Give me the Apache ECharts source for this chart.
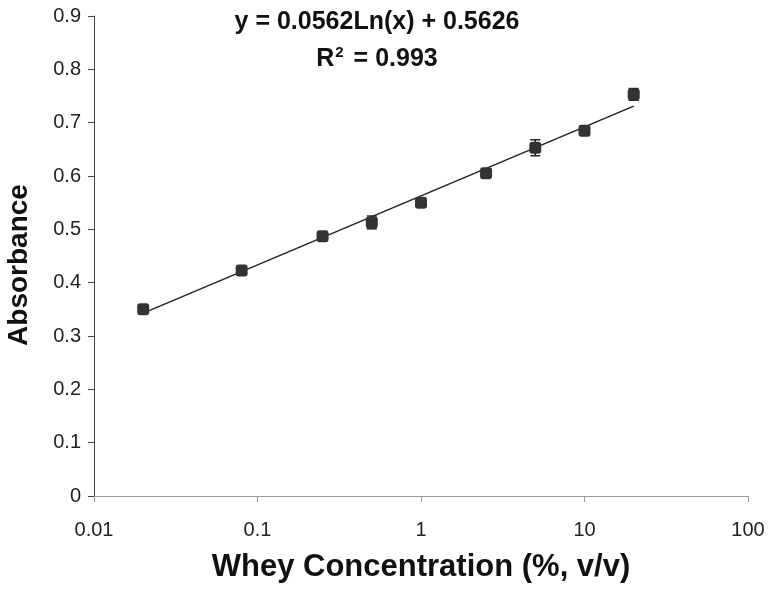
<!DOCTYPE html>
<html lang="en">
  <head>
    <meta charset="UTF-8" />
    <title>Whey concentration vs absorbance</title>
    <script src="https://cdn.jsdelivr.net/npm/echarts@6.0.0/dist/echarts.min.js"></script>
    <style>
      body { margin: 0; background: #fff; }
      #main { width: 768px; height: 591px; }
    </style>
  </head>
  <body>
    <div id="main"></div>
    <script type="text/javascript">
      // concentrations (%, v/v) and measured absorbance
      const conc = [0.02, 0.08, 0.25, 0.5, 1, 2.5, 5, 10, 20]
      const absorbance = [0.350, 0.423, 0.487, 0.513, 0.550, 0.605, 0.653, 0.685, 0.753]
      const errors = [0.007, 0.008, 0.007, 0.012, 0.007, 0.006, 0.015, 0.009, 0.011]
      // log trendline ends, as drawn
      const trendX = [0.02, 20]
      const trendY = [0.343, 0.731]
      const equationText = "y = 0.0562Ln(x) + 0.5626"

      const chart = echarts.init(document.getElementById("main"))
      const font = "Liberation Sans, Arial, sans-serif"

      const points = conc.map((c, i) => [c, absorbance[i]])
      const errData = conc.map((c, i) => [c, absorbance[i] - errors[i], absorbance[i] + errors[i]])
      const trend = trendX.map((x, i) => [x, trendY[i]])

      const option = {
        animation: false,
        grid: { left: 94, right: 20, top: 16, bottom: 95 },
        graphic: [
          {
            type: "text",
            x: 377,
            y: 10,
            style: { text: equationText, font: "bold 25px " + font, fill: "#111", align: "center" }
          },
          {
            type: "text",
            x: 377,
            y: 45,
            style: {
              text: "{b|R}{s|2}{b| = 0.993}",
              align: "center",
              rich: {
                b: { font: "bold 25px " + font, fill: "#111", verticalAlign: "bottom" },
                s: { font: "bold 15px " + font, fill: "#111", verticalAlign: "top", padding: [0, 3, 12, 1] }
              }
            }
          },
          {
            type: "text",
            x: 19,
            y: 265,
            rotation: Math.PI / 2,
            style: {
              text: "Absorbance",
              font: "bold 28px " + font,
              fill: "#111",
              align: "center",
              verticalAlign: "middle"
            }
          }
        ],
        xAxis: {
          type: "log",
          logBase: 10,
          min: 0.01,
          max: 100,
          name: "Whey Concentration (%, v/v)",
          nameLocation: "middle",
          nameGap: 56,
          nameTextStyle: { fontFamily: font, fontWeight: "bold", fontSize: 31, color: "#111" },
          axisLine: { lineStyle: { color: "#999", width: 1 } },
          axisTick: { length: 6, lineStyle: { color: "#999" } },
          splitLine: { show: false },
          minorTick: { show: false },
          axisLabel: { fontFamily: font, fontSize: 20, color: "#222", margin: 24 }
        },
        yAxis: {
          type: "value",
          min: 0,
          max: 0.9,
          interval: 0.1,
          axisLine: { show: true, lineStyle: { color: "#444", width: 1 } },
          axisTick: { show: true, length: 6, lineStyle: { color: "#444" } },
          splitLine: { show: false },
          axisLabel: { fontFamily: font, fontSize: 20, color: "#222", margin: 13 }
        },
        series: [
          {
            type: "line",
            data: trend,
            symbol: "none",
            lineStyle: { color: "#222", width: 1.5 },
            z: 2
          },
          {
            type: "custom",
            data: errData,
            z: 3,
            renderItem: function (params, api) {
              const top = api.coord([api.value(0), api.value(2)])
              const bot = api.coord([api.value(0), api.value(1)])
              const w = 5
              const st = { stroke: "#222", lineWidth: 1.5 }
              return {
                type: "group",
                children: [
                  { type: "line", shape: { x1: top[0], y1: top[1], x2: bot[0], y2: bot[1] }, style: st },
                  { type: "line", shape: { x1: top[0] - w, y1: top[1], x2: top[0] + w, y2: top[1] }, style: st },
                  { type: "line", shape: { x1: bot[0] - w, y1: bot[1], x2: bot[0] + w, y2: bot[1] }, style: st }
                ]
              }
            }
          },
          {
            type: "scatter",
            data: points,
            symbol: "roundRect",
            symbolSize: 12,
            itemStyle: { color: "#333", opacity: 1 },
            z: 4
          }
        ]
      }

      chart.setOption(option)
    </script>
  </body>
</html>
